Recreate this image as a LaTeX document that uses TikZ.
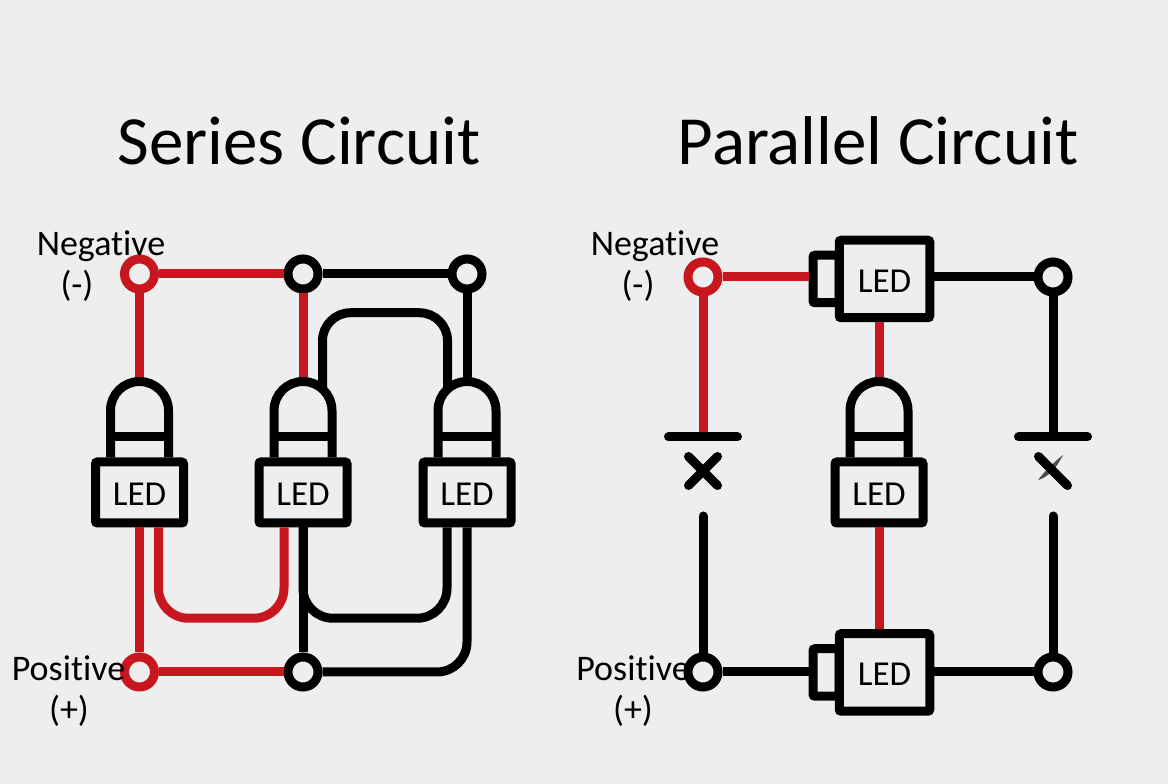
\documentclass[tikz,border=0pt]{standalone}
\usepackage{fontspec}
\setmainfont[Ligatures=NoCommon]{Carlito}
\usetikzlibrary{positioning, shapes}
\definecolor{mybg}{HTML}{EEEEEE}
\definecolor{myred}{HTML}{C8161F}
\tikzset{
  wire/.style={line width=9pt, black},
  redwire/.style={line width=9pt, myred},
  terminal/.style={circle, draw=black, fill=mybg, line width=9pt, minimum size=30pt, inner sep=0pt},
  redterminal/.style={terminal, draw=myred},
  ledbox/.style={rectangle, draw=black, fill=mybg, line width=9pt, rounded corners=2pt, minimum width=88pt, minimum height=61pt, inner sep=0pt, text height=27pt, text depth=0pt, font=\fontsize{35}{35}\selectfont},
  bigbox/.style={ledbox, minimum width=90.5pt, minimum height=77.5pt},
  tabbox/.style={rectangle, draw=black, fill=mybg, line width=9pt, rounded corners=2pt, minimum width=26pt, minimum height=47.5pt, anchor=east},
  crossmark/.style={cross out, draw=black, line width=9pt, line cap=round, minimum size=29pt, inner sep=0pt, outer sep=0pt},
  plate/.style={line width=9pt, line cap=round, black},
  stub/.style={line width=9pt, line cap=round, black},
  title/.style={font=\fontsize{69}{69}\selectfont, inner sep=0pt},
  labeltext/.style={font=\fontsize{36}{36}\selectfont, inner sep=0pt},
  pics/bulb/.style={code={
    \draw[wire, rounded corners=0pt] (-29,0) -- (-29,47) arc (180:0:29) -- (29,0);
    \draw[wire] (-29,20.75) -- (29,20.75);
    \coordinate (-top) at (0,80.5);
    \coordinate (-right) at (19.5,68.5);
    \coordinate (-left) at (-19.5,68.5);
  }}
}

\begin{document}
\begin{tikzpicture}[x=1pt, y=1pt, on grid]

\fill[mybg] (0,0) rectangle (1168,784);
\useasboundingbox (0,0) rectangle (1168,784);

% Titles
\node (TS) [title] at (299,643) {Series Circuit};
\node (TP) [title] at (878,643) {Parallel Circuit};

% Series circuit
\node (LA) [ledbox] at (139.5,291.5) {LED};
\node (LB) [ledbox, right=163.5pt of LA] {LED};
\node (LC) [ledbox, right=164pt of LB] {LED};
\pic (A) at (LA.north) {bulb};
\pic (B) at (LB.north) {bulb};
\pic (C) at (LC.north) {bulb};

\node (NA) [redterminal, above=218.5pt of LA] {};
\node (NB) [terminal, above=218.5pt of LB] {};
\node (NC) [terminal, above=218.5pt of LC] {};
\node (PA) [redterminal, below=179.5pt of LA] {};
\node (PB) [terminal, below=179.5pt of LB] {};

\node (LN) [labeltext] at (101,538) {Negative};
\node (LM) [labeltext] at (77,498) {(-)};
\node (LP) [labeltext] at (68.5,116) {Positive};
\node (LQ) [labeltext] at (69,73) {(+)};

% Series wires
\draw[redwire] (NA) -- (NB);
\draw[wire] (NB) -- (NC);
\draw[redwire] (NA) -- (A-top);
\draw[redwire] (NB) -- (B-top);
\draw[wire] (NC) -- (C-top);
\draw[wire, rounded corners=28pt] (B-right) -- ++(0,76.25) -| (C-left);
\draw[redwire] (LA.south) -- (PA);
\draw[redwire] (PA) -- (PB);
\draw[redwire, rounded corners=30pt] ([xshift=19pt]LA.south) -- ++(0,-90.75) -| ([xshift=-19pt]LB.south);
\draw[wire, rounded corners=30pt] ([xshift=-20pt]LC.south) -- ++(0,-90.75) -| (LB.south);
\draw[wire] (LB.south) -- (PB);
\draw[wire, rounded corners=30pt] (LC.south) |- (PB);

% Parallel circuit
\node (TT) [tabbox] at (843.5,505) {};
\node (LT) [bigbox] at (884.5,505) {LED};
\node (TU) [tabbox] at (843.5,111.5) {};
\node (LU) [bigbox] at (884.5,111.5) {LED};
\node (LD) [ledbox] at (879,291.5) {LED};
\pic (D) at (LD.north) {bulb};

\node (NE) [redterminal] at (703,507) {};
\node (NF) [terminal, right=350pt of NE] {};
\node (PE) [terminal] at (703,112) {};
\node (PF) [terminal, right=350pt of PE] {};

\coordinate (PLE) at (703,347);
\coordinate (PLF) at (1053,347);
\coordinate (SE) at (703,268);
\coordinate (SF) at (1053,268);
\coordinate (XF) at (1053,313);
\node (XE) [crossmark] at (703,313) {};

\node (RN) [labeltext] at (655,538) {Negative};
\node (RM) [labeltext] at (638,498) {(-)};
\node (RP) [labeltext] at (633,116) {Positive};
\node (RQ) [labeltext] at (633,73) {(+)};

% Parallel wires
\draw[redwire] (NE) -- (NE -| TT.west);
\draw[wire] (NF -| LT.east) -- (NF);
\draw[redwire] (NE) -- (PLE);
\draw[wire] (NF) -- (PLF);
\draw[plate] ([xshift=-34.5pt]PLE) -- ([xshift=34.5pt]PLE);
\draw[plate] ([xshift=-34.5pt]PLF) -- ([xshift=34.5pt]PLF);
\draw[stub] (SE) -- (PE);
\draw[stub] (SF) -- (PF);
\draw[redwire] (LT.south -| LD) -- (D-top);
\draw[redwire] (LD.south) -- (LU.north -| LD);
\draw[wire] (PE) -- (PE -| TU.west);
\draw[wire] (PF -| LU.east) -- (PF);

% Smudged cross on the right
\fill[black!70] ([shift={(-15,-9)}]XF) .. controls ([shift={(-8,0)}]XF) and ([shift={(0,8)}]XF) .. ([shift={(10,16)}]XF) .. controls ([shift={(4,4)}]XF) and ([shift={(-4,-6)}]XF) .. cycle;
\draw[stub] ([shift={(-14.5,14.5)}]XF) -- ([shift={(14.5,-14.5)}]XF);

\end{tikzpicture}
\end{document}
